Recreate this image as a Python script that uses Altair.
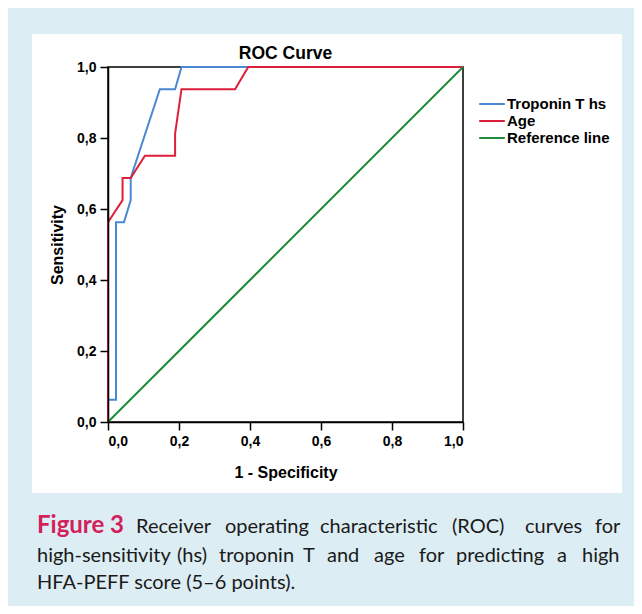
import altair as alt
import pandas as pd

# ---- data ----
trop_fpr = [0.0, 0.0, 0.0225, 0.0225, 0.045, 0.064, 0.064, 0.146, 0.189, 0.207, 1.0]
trop_tpr = [0.0, 0.0625, 0.0625, 0.5625, 0.5625, 0.625, 0.6875, 0.9375, 0.9375, 1.0, 1.0]
age_fpr = [0.0, 0.0, 0.041, 0.041, 0.064, 0.104, 0.189, 0.189, 0.207, 0.358, 0.395, 1.0]
age_tpr = [0.0, 0.5625, 0.625, 0.6875, 0.6875, 0.75, 0.75, 0.8125, 0.9375, 0.9375, 1.0, 1.0]
ref_fpr = [0.0, 1.0]
ref_tpr = [0.0, 1.0]
series_names = ["Troponin T hs", "Age", "Reference line"]
series_colors = ["#4a88d4", "#de1f3b", "#1f8b3b"]
tick_values = [0.0, 0.2, 0.4, 0.6, 0.8, 1.0]

chart_title = "ROC Curve"
x_title = "1 - Specificity"
y_title = "Sensitivity"

caption_label = "Figure 3"
caption_line1 = ["Receiver", "operating", "characteristic", "(ROC)", "curves", "for"]
caption_line2 = ["high-sensitivity", "(hs)", "troponin", "T", "and", "age", "for",
                 "predicting", "a", "high"]
caption_line3 = ["HFA-PEFF score (5\u20136 points)."]

# ---- layout (pixels relative to plot origin) ----
OX, OY = 108, 67
W = 355
line1_x = [136, 225, 320, 452, 525, 595]
line2_x = [37, 177, 219, 303, 327, 374, 419, 456, 557, 582]
line3_x = [37]
baselines = [533, 561.5, 589]

rows = []
for fx, fy, name in [(trop_fpr, trop_tpr, series_names[0]),
                     (age_fpr, age_tpr, series_names[1]),
                     (ref_fpr, ref_tpr, series_names[2])]:
    for i, (a, b) in enumerate(zip(fx, fy)):
        rows.append({"fpr": a, "tpr": b, "series": name, "idx": i})
roc = pd.DataFrame(rows)

color_scale = alt.Scale(domain=series_names, range=series_colors)
label_expr = "replace(format(datum.value, '.1f'), '.', ',')"


def series_layer(name):
    return alt.Chart(roc).transform_filter(alt.datum.series == name).mark_line(
        strokeWidth=2, strokeJoin="miter"
    ).encode(
        x=alt.X("fpr:Q", scale=alt.Scale(domain=[0, 1], nice=False),
                axis=alt.Axis(values=tick_values, labelExpr=label_expr, title=x_title,
                              titleY=50, titleBaseline="middle", zindex=1)),
        y=alt.Y("tpr:Q", scale=alt.Scale(domain=[0, 1], nice=False),
                axis=alt.Axis(values=tick_values, labelExpr=label_expr, title=y_title,
                              titleX=57 - OX, titleBaseline="middle", zindex=1)),
        color=alt.Color("series:N", scale=color_scale,
                        legend=alt.Legend(title=None, orient="none", legendX=375, legendY=28,
                                          symbolType="M-1.6,0L1.6,0", symbolSize=256,
                                          symbolStrokeWidth=2, labelFont="Liberation Sans",
                                          labelFontWeight="bold", labelFontSize=15,
                                          labelColor="black", labelOffset=6,
                                          rowPadding=-1, labelLimit=0)),
        order="idx:Q",
    )


lines = alt.layer(*[series_layer(n) for n in series_names])

one = pd.DataFrame({"a": [0]})
panel = alt.Chart(one).mark_rect(color="white").encode(
    x=alt.value(32 - OX), x2=alt.value(622 - OX),
    y=alt.value(34 - OY), y2=alt.value(493 - OY),
)
frame = alt.Chart(one).mark_rect(fill=None, stroke="black", strokeWidth=1.5).encode(
    x=alt.value(0), x2=alt.value(W), y=alt.value(0), y2=alt.value(W),
)

words = []
for ws, xs, b in [(caption_line1, line1_x, baselines[0]),
                  (caption_line2, line2_x, baselines[1]),
                  (caption_line3, line3_x, baselines[2])]:
    for w, x in zip(ws, xs):
        words.append({"w": w, "px": x - OX, "py": b - OY})
cap_df = pd.DataFrame(words)

caption = alt.Chart(cap_df).mark_text(
    align="left", baseline="alphabetic", font="Lato", fontSize=20, color="#1a1a1a"
).encode(
    x=alt.X("px:Q", scale=None, axis=None),
    y=alt.Y("py:Q", scale=None, axis=None),
    text="w:N",
)

fig_label = alt.Chart(one).mark_text(
    align="left", baseline="alphabetic", font="Lato", fontSize=24, fontWeight="bold",
    color="#d31f5b"
).encode(
    x=alt.value(37 - OX), y=alt.value(baselines[0] - OY), text=alt.value(caption_label)
)

chart = alt.layer(panel, frame, lines, caption, fig_label).resolve_scale(
    x="independent", y="independent"
).properties(
    width=W, height=W,
    autosize=alt.AutoSizeParams(type="none"),
    padding={"left": 100, "top": 59, "right": 171, "bottom": 184},
    background="#dcedf3",
    title=alt.Title(chart_title, font="Liberation Sans", fontSize=17.5, fontWeight="bold",
                    color="black", anchor="middle", offset=-42, frame="group",
                    baseline="alphabetic"),
).configure_view(
    stroke=None
).configure_axis(
    grid=False, domainColor="black", domainWidth=1.5, tickColor="black", tickWidth=1.5,
    tickSize=8, labelFont="Liberation Sans", labelFontSize=14, labelFontWeight="bold",
    labelColor="black", labelPadding=4, titleFont="Liberation Sans", titleFontSize=16,
    titleFontWeight="bold", titleColor="black",
)

chart.save("out.html", embed_options={"renderer": "svg", "actions": False})
